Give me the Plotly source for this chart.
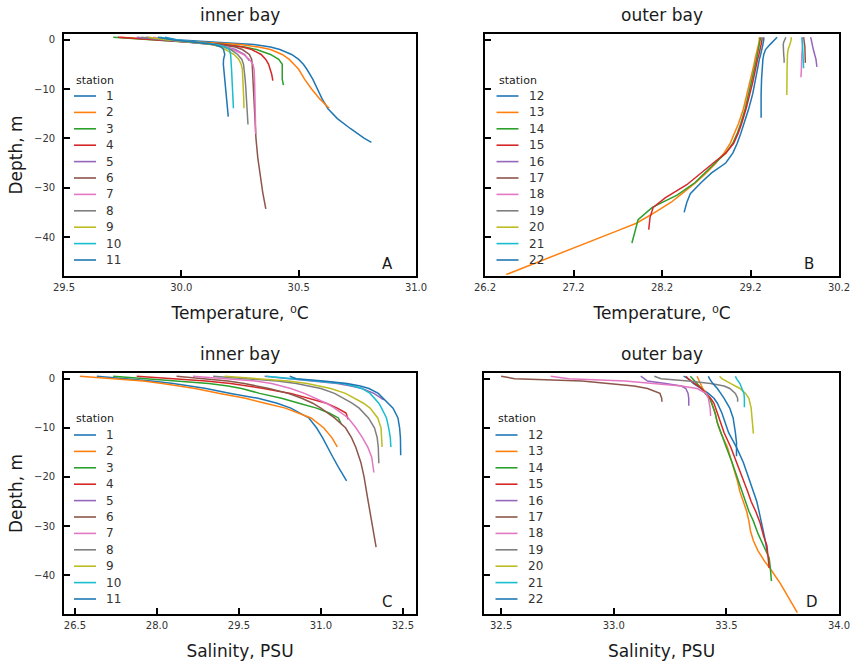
import plotly.graph_objects as go

# 测站编号
stations_inner = list(range(1, 12))
stations_outer = list(range(12, 23))

# 内湾：深度 (m, 向下为正)、温度 (°C)、盐度 (PSU)
depth_inner = [
    [-0.5, 0, 0.5, 1, 1.5, 2, 3, 4, 5, 6, 8, 10, 12, 14, 16, 18, 20, 20.8],
    [-0.5, 0, 0.5, 1, 1.5, 2, 3, 4, 5, 6, 8, 10, 12, 13.9],
    [-0.5, 0, 0.5, 1, 1.5, 2, 3, 4, 5, 6, 7, 8, 9.2],
    [-0.5, 0, 0.5, 1, 1.5, 2, 3, 4, 5, 6, 7, 8.3],
    [-0.5, 0, 0.5, 1, 1.5, 2, 3, 4.3],
    [-0.5, 0, 0.5, 1, 1.5, 2, 3, 4, 5, 6, 8, 10, 12, 14, 17, 20, 24, 28, 31, 34.3],
    [-0.5, 0, 0.5, 1, 1.5, 2, 3, 4, 5, 6, 8, 10, 12, 14, 16, 19.1],
    [-0.5, 0, 0.5, 1, 1.5, 2, 3, 4, 5, 6, 8, 10, 12, 14, 17.2],
    [-0.5, 0, 0.5, 1, 1.5, 2, 3, 4, 5, 6, 8, 10, 12, 13.9],
    [-0.5, 0, 0.5, 1, 1.5, 2, 3, 4, 5, 6, 8, 10, 12, 13.9],
    [-0.5, 0, 0.5, 1, 1.5, 2, 3, 4, 5, 6, 8, 10, 12, 15.6],
]
temp_inner = [
    [29.93, 29.98, 30.15, 30.31, 30.38, 30.42, 30.47, 30.50, 30.52, 30.535, 30.56, 30.58, 30.60, 30.625, 30.665, 30.72, 30.78, 30.81],
    [29.74, 29.90, 30.08, 30.25, 30.33, 30.38, 30.43, 30.46, 30.48, 30.50, 30.525, 30.555, 30.59, 30.63],
    [29.71, 29.88, 30.05, 30.18, 30.27, 30.32, 30.38, 30.415, 30.43, 30.43, 30.428, 30.43, 30.435],
    [29.73, 29.88, 30.05, 30.18, 30.26, 30.30, 30.34, 30.36, 30.372, 30.38, 30.385, 30.39],
    [29.81, 29.92, 30.04, 30.13, 30.19, 30.23, 30.27, 30.29],
    [29.85, 29.93, 30.05, 30.16, 30.23, 30.26, 30.29, 30.30, 30.302, 30.303, 30.305, 30.307, 30.309, 30.311, 30.314, 30.318, 30.326, 30.337, 30.347, 30.36],
    [29.88, 29.95, 30.05, 30.14, 30.19, 30.22, 30.265, 30.29, 30.305, 30.31, 30.312, 30.313, 30.314, 30.315, 30.316, 30.317],
    [29.83, 29.93, 30.04, 30.13, 30.18, 30.21, 30.24, 30.258, 30.265, 30.268, 30.272, 30.275, 30.278, 30.28, 30.284],
    [29.86, 29.94, 30.05, 30.13, 30.17, 30.19, 30.225, 30.245, 30.255, 30.26, 30.263, 30.265, 30.266, 30.267],
    [29.91, 29.97, 30.07, 30.15, 30.19, 30.205, 30.21, 30.212, 30.213, 30.214, 30.216, 30.218, 30.22, 30.222],
    [29.90, 29.96, 30.06, 30.14, 30.17, 30.18, 30.185, 30.18, 30.179, 30.181, 30.187, 30.191, 30.195, 30.20],
]
sal_inner = [
    [26.9, 27.45, 27.9, 28.3, 28.6, 28.9, 29.35, 29.85, 30.2, 30.45, 30.78, 30.92, 31.03, 31.12, 31.22, 31.32, 31.42, 31.47],
    [26.59, 27.2, 27.75, 28.1, 28.4, 28.7, 29.15, 29.62, 29.98, 30.35, 30.82, 31.05, 31.2, 31.30],
    [27.2, 27.85, 28.5, 28.95, 29.3, 29.55, 29.88, 30.28, 30.6, 30.92, 31.15, 31.32, 31.37],
    [27.63, 28.3, 28.9, 29.35, 29.65, 29.95, 30.45, 30.8, 31.1, 31.3, 31.46, 31.50],
    [29.97, 30.45, 30.9, 31.3, 31.55, 31.75, 31.97, 32.15],
    [28.36, 28.9, 29.3, 29.6, 29.85, 30.05, 30.4, 30.65, 30.85, 31.0, 31.25, 31.45, 31.56, 31.64, 31.73, 31.79, 31.85, 31.91, 31.96, 32.01],
    [28.66, 29.3, 29.8, 30.1, 30.3, 30.45, 30.7, 30.9, 31.1, 31.25, 31.5, 31.64, 31.76, 31.86, 31.93, 31.97],
    [29.03, 29.7, 30.2, 30.55, 30.8, 31.0, 31.25, 31.42, 31.57, 31.70, 31.87, 31.98, 32.03, 32.05, 32.06],
    [29.24, 29.9, 30.4, 30.75, 31.0, 31.18, 31.45, 31.63, 31.78, 31.9, 32.04, 32.1, 32.115, 32.12],
    [30.0, 30.45, 31.0, 31.4, 31.6, 31.75, 31.9, 31.98, 32.06, 32.11, 32.2, 32.24, 32.27, 32.28],
    [30.43, 30.55, 31.05, 31.48, 31.72, 31.88, 32.05, 32.14, 32.24, 32.32, 32.41, 32.44, 32.455, 32.46],
]

# 外湾
depth_outer = [
    [-0.5, 0, 1, 2, 3, 4, 5, 7, 9, 11, 14, 17, 19, 21, 23, 25, 27, 29, 31.2, 33, 35],
    [-0.5, 0, 1, 2, 3, 4, 5, 7, 9, 11, 14, 17, 19, 21, 23, 25, 27, 29, 31, 33, 35, 37.2, 38.7, 41.7, 44.5, 47.6],
    [-0.5, 0, 1, 2, 3, 4, 5, 7, 9, 11, 14, 17, 19, 21, 23, 25, 27, 29, 31.5, 34, 36.5, 38.5, 41.2],
    [-0.5, 0, 1, 2, 3, 4, 5, 7, 9, 11, 14, 17, 19, 21, 23, 25, 27, 29.4, 32, 34, 36, 38.5],
    [-0.5, 0, 0.5, 1, 1.5, 2, 3, 4, 5.5],
    [-0.5, 0, 0.5, 1, 1.5, 2, 3, 4, 4.7],
    [-0.5, 0, 0.5, 1, 1.5, 2, 3, 4, 6, 7.6],
    [-0.5, 0, 0.5, 1, 1.5, 2, 3, 4, 4.7],
    [-0.5, 0, 1, 2, 3, 4, 6, 8, 11.2],
    [-0.5, 0, 1, 2, 3, 4, 5.8],
    [-0.5, 0, 1, 2, 3, 4, 6, 8, 11, 13, 15.8],
]
temp_outer = [
    [29.35, 29.35, 29.34, 29.33, 29.315, 29.30, 29.29, 29.265, 29.245, 29.225, 29.18, 29.13, 29.09, 29.05, 29.0, 28.92, 28.76, 28.64, 28.52, 28.48, 28.45],
    [29.30, 29.30, 29.29, 29.275, 29.26, 29.25, 29.24, 29.215, 29.19, 29.165, 29.12, 29.065, 29.02, 28.97, 28.90, 28.81, 28.70, 28.58, 28.44, 28.30, 28.12, 27.91, 27.70, 27.27, 26.88, 26.44],
    [29.31, 29.31, 29.30, 29.29, 29.28, 29.265, 29.255, 29.23, 29.205, 29.18, 29.14, 29.09, 29.05, 29.0, 28.92, 28.80, 28.69, 28.57, 28.37, 28.09, 27.93, 27.90, 27.86],
    [29.33, 29.33, 29.32, 29.31, 29.295, 29.28, 29.27, 29.245, 29.22, 29.195, 29.15, 29.10, 29.06, 29.01, 28.92, 28.78, 28.64, 28.48, 28.24, 28.10, 28.065, 28.05],
    [29.88, 29.885, 29.89, 29.90, 29.905, 29.91, 29.925, 29.94, 29.95],
    [29.80, 29.805, 29.81, 29.81, 29.815, 29.815, 29.82, 29.82, 29.82],
    [29.79, 29.79, 29.79, 29.785, 29.785, 29.785, 29.78, 29.78, 29.775, 29.77],
    [29.60, 29.585, 29.575, 29.57, 29.57, 29.57, 29.575, 29.58, 29.58],
    [29.66, 29.66, 29.645, 29.625, 29.618, 29.615, 29.613, 29.612, 29.61],
    [29.78, 29.785, 29.787, 29.79, 29.793, 29.796, 29.80],
    [29.50, 29.47, 29.42, 29.37, 29.35, 29.34, 29.33, 29.325, 29.32, 29.32, 29.32],
]
sal_outer = [
    [33.31, 33.33, 33.355, 33.39, 33.42, 33.445, 33.46, 33.48, 33.495, 33.51, 33.545, 33.575, 33.59, 33.605, 33.62, 33.635, 33.645, 33.655, 33.665, 33.673, 33.68],
    [33.37, 33.375, 33.385, 33.395, 33.41, 33.425, 33.435, 33.45, 33.46, 33.475, 33.505, 33.525, 33.54, 33.55, 33.56, 33.575, 33.59, 33.60, 33.607, 33.62, 33.64, 33.67, 33.695, 33.74, 33.775, 33.815],
    [33.34, 33.35, 33.37, 33.39, 33.405, 33.425, 33.435, 33.45, 33.46, 33.475, 33.50, 33.525, 33.54, 33.555, 33.57, 33.585, 33.60, 33.62, 33.64, 33.665, 33.69, 33.695, 33.70],
    [33.32, 33.33, 33.36, 33.39, 33.41, 33.43, 33.445, 33.46, 33.475, 33.49, 33.52, 33.545, 33.565, 33.58, 33.595, 33.61, 33.63, 33.65, 33.665, 33.68, 33.685, 33.69],
    [33.12, 33.135, 33.15, 33.23, 33.30, 33.32, 33.33, 33.333, 33.333],
    [32.50, 32.56, 32.86, 32.99, 33.09, 33.15, 33.205, 33.213, 33.214],
    [32.72, 32.80, 33.05, 33.19, 33.30, 33.37, 33.41, 33.42, 33.428, 33.43],
    [33.18, 33.21, 33.33, 33.43, 33.49, 33.515, 33.54, 33.55, 33.55],
    [33.47, 33.48, 33.52, 33.56, 33.585, 33.60, 33.61, 33.615, 33.62],
    [33.54, 33.545, 33.56, 33.57, 33.578, 33.58, 33.58],
    [33.42, 33.425, 33.44, 33.46, 33.475, 33.49, 33.515, 33.53, 33.54, 33.545, 33.545],
]

# 刻度
ytick_vals = [0, -10, -20, -30, -40]
xticks_a = [29.5, 30.0, 30.5, 31.0]
xticks_b = [26.2, 27.2, 28.2, 29.2, 30.2]
xticks_c = [26.5, 28.0, 29.5, 31.0, 32.5]
xticks_d = [32.5, 33.0, 33.5, 34.0]

colors = ['#1f77b4', '#ff7f0e', '#2ca02c', '#d62728', '#9467bd', '#8c564b',
          '#e377c2', '#7f7f7f', '#bcbd22', '#17becf']

W, H = 854, 662
ML, MR, MT, MB = 64, 15, 34, 48
PW, PH = W - ML - MR, H - MT - MB
FONT = 'DejaVu Sans'


def px(x):
    return (x - ML) / PW


def py(y):
    return (MT + PH - y) / PH


# 各子图像素框 (左, 上, 右, 下)
boxes = {
    '': (64, 34, 416, 276),
    '2': (485, 34, 839, 276),
    '3': (64, 373, 416, 614),
    '4': (484, 373, 839, 614),
}

fig = go.Figure()


def add_lines(xs_list, depths, stations, ax):
    for i, st in enumerate(stations):
        fig.add_trace(go.Scatter(
            x=xs_list[i], y=[-d for d in depths[i]], mode='lines',
            line=dict(color=colors[i % 10], width=1.5),
            name='station %d' % st, showlegend=False,
            xaxis='x' + ax, yaxis='y' + ax))


add_lines(temp_inner, depth_inner, stations_inner, '')
add_lines(temp_outer, depth_outer, stations_outer, '2')
add_lines(sal_inner, depth_inner, stations_inner, '3')
add_lines(sal_outer, depth_outer, stations_outer, '4')

axis_style = dict(showline=True, mirror=True, linecolor='black', linewidth=1.6,
                  ticks='inside', ticklen=6, tickwidth=1.6, tickcolor='black',
                  showgrid=False, zeroline=False, automargin=False,
                  tickfont=dict(family=FONT, size=10, color='#333333'))
title_font = dict(family=FONT, size=17, color='#1a1a1a')

layout = {}
xspecs = {
    '': ([29.5, 31.0], xticks_a, 'Temperature, \u2070C'),
    '2': ([26.2, 30.2], xticks_b, 'Temperature, \u2070C'),
    '3': ([26.3, 32.74], xticks_c, 'Salinity, PSU'),
    '4': ([32.424, 34.0], xticks_d, 'Salinity, PSU'),
}
for ax, (l, t, r, b) in boxes.items():
    rng, tv, xt = xspecs[ax]
    layout['xaxis' + ax] = dict(
        axis_style, domain=[px(l), px(r)], range=rng, tickvals=tv,
        tickformat='.1f', anchor='y' + ax, ticklabelstandoff=1,
        title=dict(text=xt, font=title_font, standoff=15))
    left_panel = ax in ('', '3')
    ydict = dict(axis_style, domain=[py(b), py(t)], range=[-47.9, 1.15],
                 tickvals=ytick_vals, anchor='x' + ax, ticklabelstandoff=5,
                 showticklabels=left_panel)
    if left_panel:
        ydict['title'] = dict(text='Depth, m', font=title_font, standoff=7)
    layout['yaxis' + ax] = ydict

annotations = []
shapes = []

# 子图标题
for ax, txt in [('', 'inner bay'), ('2', 'outer bay'), ('3', 'inner bay'), ('4', 'outer bay')]:
    l, t, r, b = boxes[ax]
    annotations.append(dict(text=txt, x=px((l + r) / 2), y=py(t - 19), xref='paper', yref='paper',
                            showarrow=False, xanchor='center', yanchor='middle',
                            font=dict(family=FONT, size=17, color='#1a1a1a')))

# 子图字母
for ax, letter, fx in [('', 'A', 0.918), ('2', 'B', 0.915), ('3', 'C', 0.918), ('4', 'D', 0.924)]:
    annotations.append(dict(text=letter, x=fx, y=0.05, xref='x%s domain' % ax,
                            yref='y%s domain' % ax, showarrow=False,
                            xanchor='center', yanchor='middle',
                            font=dict(family=FONT, size=15, color='#1a1a1a')))

# 图例 (手动绘制，与原图间距一致)
for ax, stations, dx in [('', stations_inner, 0), ('2', stations_outer, 1.5),
                         ('3', stations_inner, 0), ('4', stations_outer, 1.5)]:
    l, t, r, b = boxes[ax]
    annotations.append(dict(text='station', x=px(l + 10 + dx), y=py(t + 46), xref='paper',
                            yref='paper', showarrow=False, xanchor='left', yanchor='middle',
                            font=dict(family=FONT, size=11, color='#1a1a1a')))
    for i, st in enumerate(stations):
        yy = t + 62 + 16.4 * i
        shapes.append(dict(type='line', xref='paper', yref='paper',
                           x0=px(l + 10 + dx), x1=px(l + 32 + dx), y0=py(yy), y1=py(yy),
                           line=dict(color=colors[i % 10], width=1.6)))
        annotations.append(dict(text=str(st), x=px(l + 40 + dx), y=py(yy), xref='paper',
                                yref='paper', showarrow=False, xanchor='left', yanchor='middle',
                                font=dict(family=FONT, size=12, color='#333333')))

fig.update_layout(
    width=W, height=H,
    margin=dict(l=ML, r=MR, t=MT, b=MB, autoexpand=False),
    paper_bgcolor='white', plot_bgcolor='white',
    font=dict(family=FONT),
    showlegend=False,
    annotations=annotations, shapes=shapes,
    **layout)

# 去掉页面默认边距，使图表与窗口对齐；隐藏工具栏
fig.write_html('out.html', config={'displayModeBar': False},
               post_script="document.body.style.margin='0';")
